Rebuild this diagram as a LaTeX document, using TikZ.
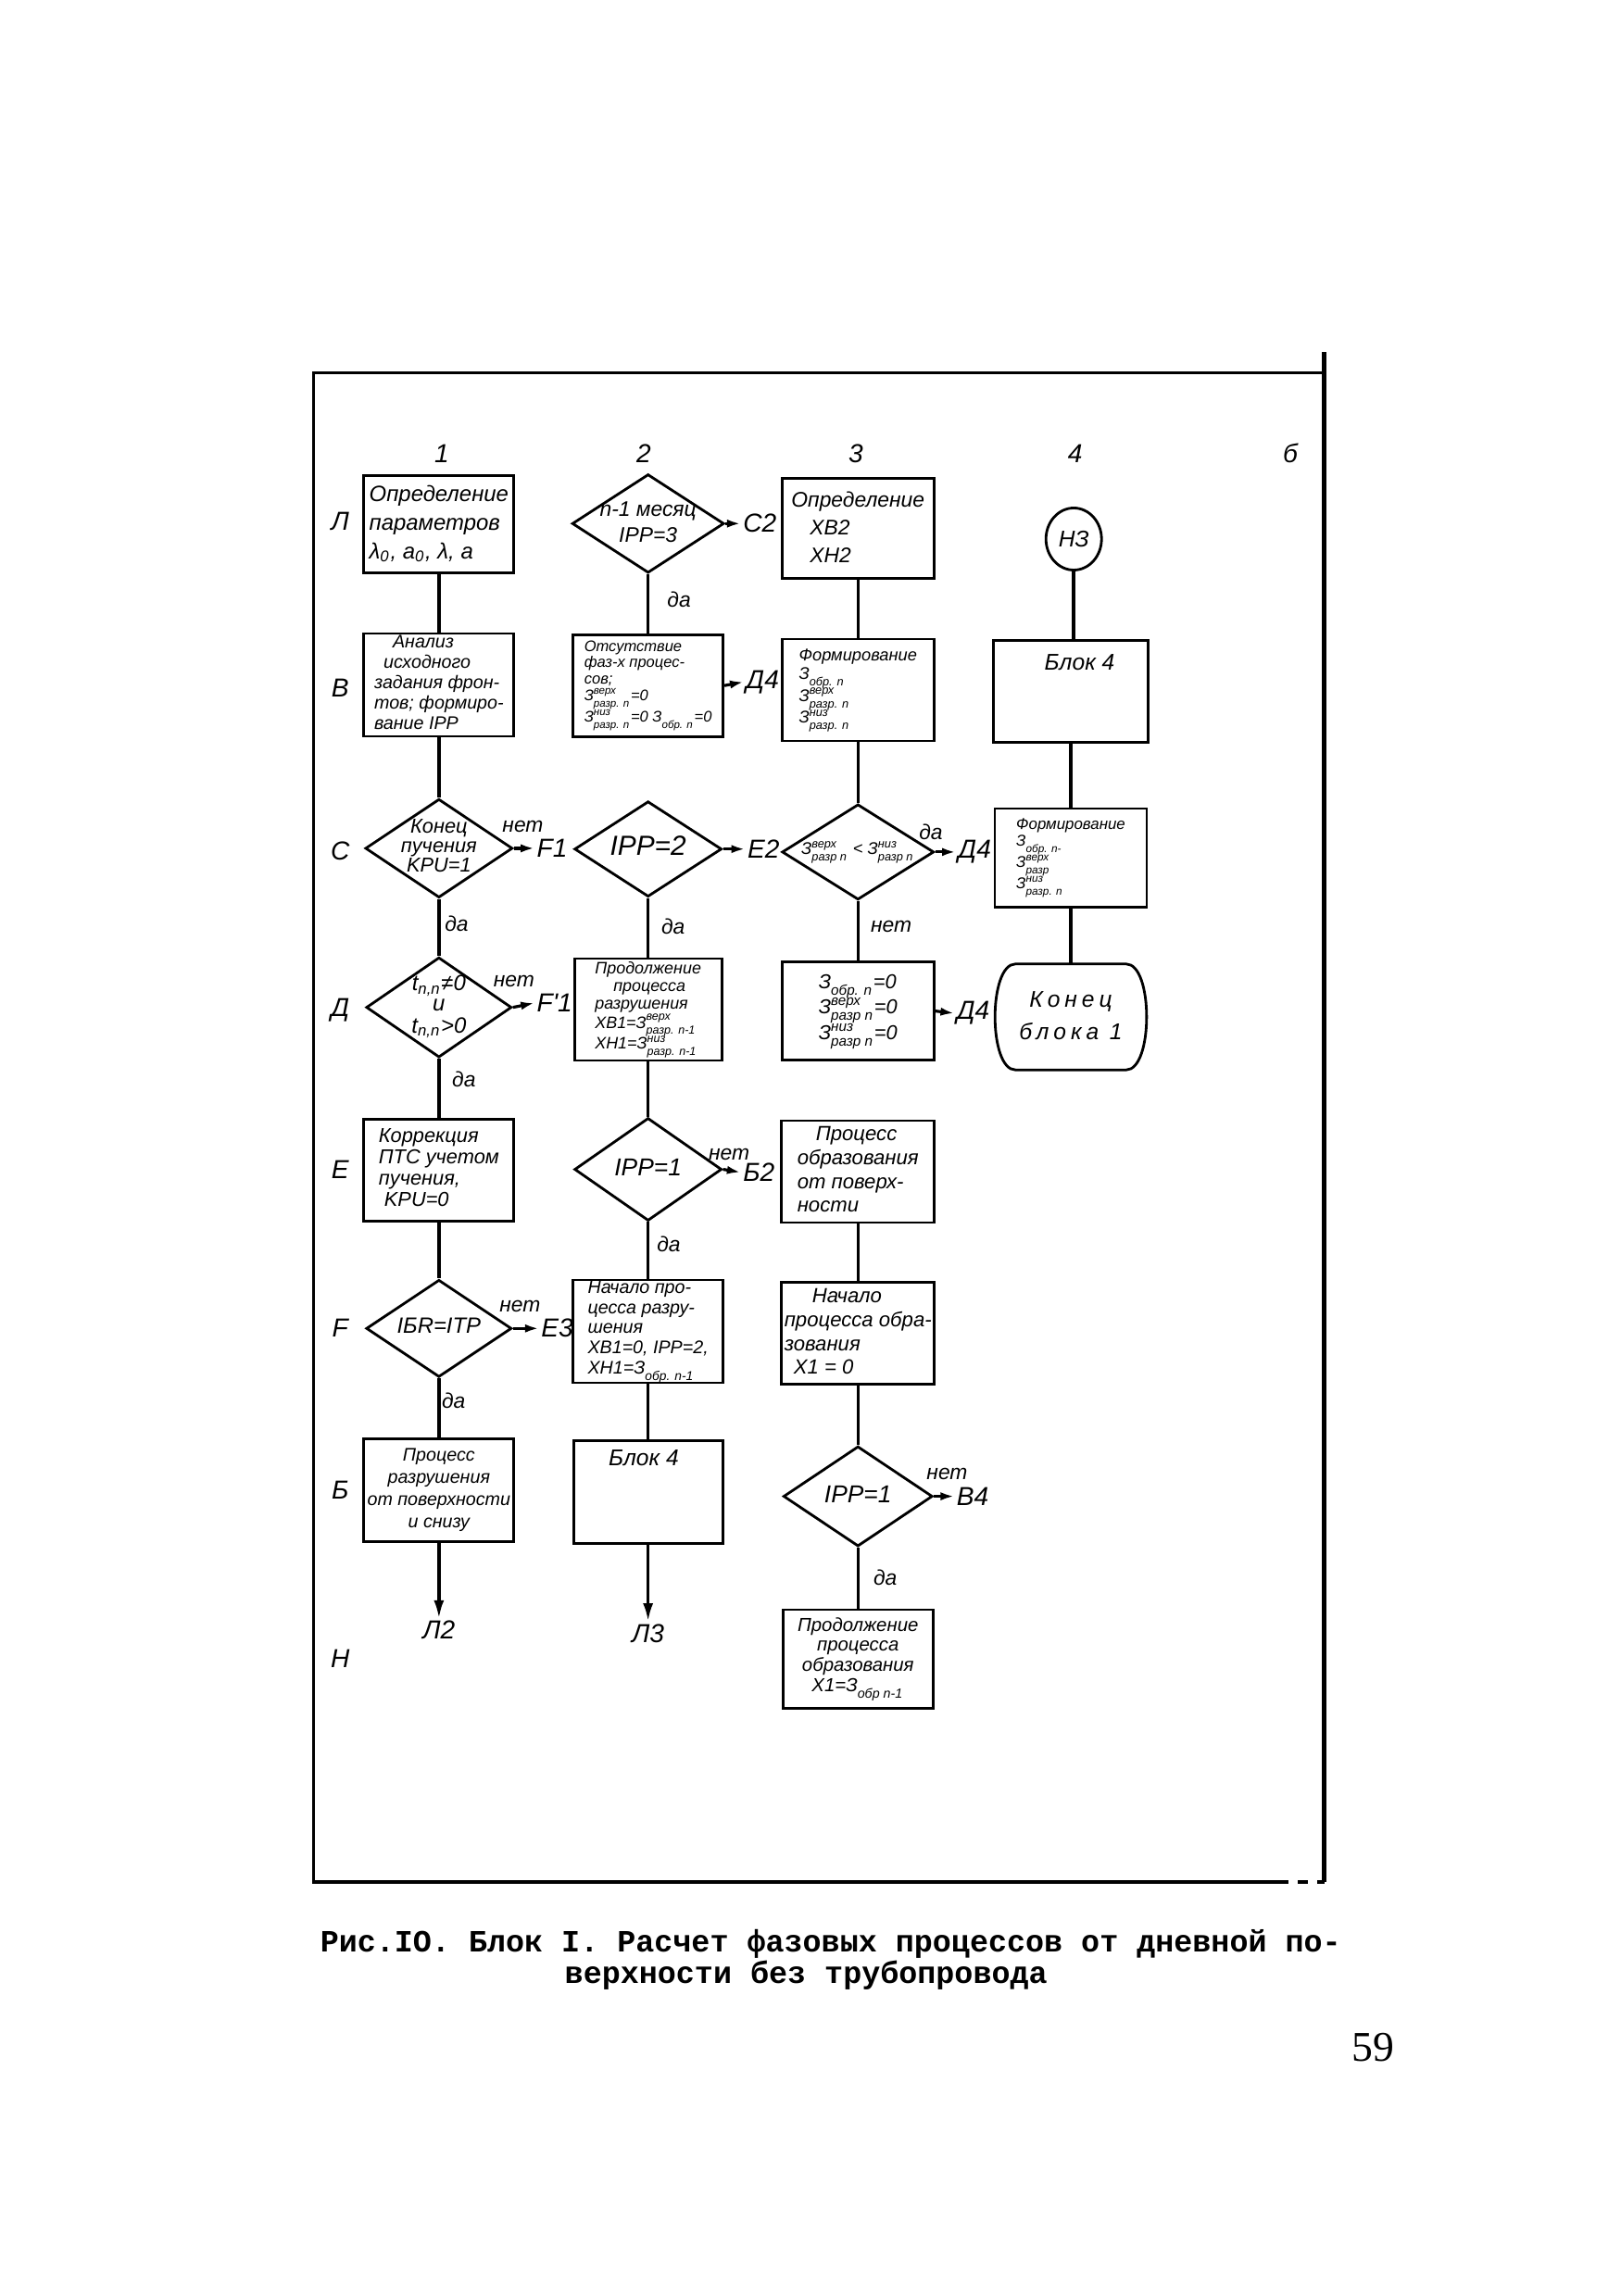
\documentclass[tikz,border=0pt]{standalone}
\usepackage{amsmath}
\usepackage{fontspec}
\setmainfont{Liberation Serif}
\newfontfamily\hand{Liberation Sans}
\newfontfamily\typer{Liberation Mono}
\usetikzlibrary{shapes.geometric,arrows.meta}
\newcommand{\hw}[2]{\hand\itshape\fontsize{#1}{#2}\selectfont}
\newcommand{\inbox}[2][c]{\makebox[0pt]{\raisebox{-0.25em}[0pt][0pt]{\begin{tabular}{@{}#1@{}}#2\end{tabular}}}}
\newcommand{\zsym}[2]{$\text{З}^{\text{#1}}_{\text{#2}}$}
\begin{document}
\begin{tikzpicture}[x=0.159mm,y=-0.159mm,
	box/.style={draw,line width=0.8pt,inner sep=0pt,minimum width=16.2mm,minimum height=11mm,font=\hw{6}{7}},
	cond/.style={draw,diamond,line width=0.8pt,inner sep=0pt,minimum width=16mm,minimum height=10.6mm,font=\hw{6}{7}},
	flow/.style={line width=1pt},
	outarrow/.style={line width=0.9pt,-{Latex[length=1.5mm,width=0.9mm]}},
	downarrow/.style={line width=1pt,-{Latex[length=2mm,width=1.1mm]}},
	word/.style={inner sep=0.5pt,font=\hw{6.5}{7}},
	ref/.style={inner sep=0.5pt,font=\hw{8}{9}},
	hdr/.style={inner sep=0pt,font=\hw{8}{9}},
	captext/.style={inner sep=0pt,anchor=west,font=\typer\bfseries\fontsize{9.5}{11}\selectfont}]
		\useasboundingbox (0,0) rectangle (1100,1559);

		\draw[line width=1pt] (899,253) -- (213,253) -- (213,1278) -- (868,1278);
		\draw[line width=1pt,dashed] (868,1278) -- (899,1278);
		\draw[line width=1.6pt] (899,239) -- (899,1278);

		\foreach \Pos/\Text [count=\i] in {300/1,437/2,581/3,730/4,876/б}{
			\node[hdr] (col\i) at (\Pos,308) {\Text};
		}
		\foreach \Pos/\Text [count=\i] in {354/Л,467/В,578/С,686/Д,794/Е,902/F,1012/Б,1126/Н}{
			\node[hdr] (row\i) at (231,\Pos) {\Text};
		}

		\node[box,minimum height=10.5mm,font=\hw{6.8}{8.8}] (a1) at (298,356) {\inbox[l]{Определение\\параметров\\ λ\textsubscript{0}, a\textsubscript{0}, λ, a}};
		\node[box,minimum height=11.1mm,font=\hw{5.6}{6.3}] (b1) at (298,465) {\inbox[l]{\hspace*{2mm}Анализ\\\hspace*{1mm}исходного\\задания фрон-\\тов; формиро-\\вание IPP}};
		\node[cond,minimum width=15.9mm,minimum height=10.65mm,font=\hw{6.2}{6}] (c1) at (298,576) {\inbox{Конец\\пучения\\KPU=1}};
		\node[cond,minimum width=15.7mm,minimum height=10.8mm,font=\hw{6.8}{6.3}] (d1) at (298,684) {\inbox{t\textsubscript{n,n}≠0\\и\\t\textsubscript{n,n}>0}};
		\node[box,minimum height=11mm,font=\hw{6.2}{6.6}] (e1) at (298,794.5) {\inbox[l]{Коррекция\\ ПТС учетом\\пучения,\\ \ KPU=0}};
		\node[cond,minimum width=15.7mm,minimum height=10.5mm,font=\hw{6.8}{8}] (f1) at (298,902) {\inbox{IБR=ITP}};
		\node[box,minimum height=11.1mm,font=\hw{5.6}{6.8}] (g1) at (298,1012) {\inbox{Процесс\\разрушения\\от поверхности\\и снизу}};
		\node[ref] (g1x) at (298,1107) {Л2};

		\node[cond,minimum width=16.4mm,minimum height=10.65mm,font=\hw{6.5}{8}] (a2) at (440,355.5) {\inbox{n-1 месяц\\IPP=3}};
		\node[box,minimum height=11mm,font=\hw{4.7}{5}] (b2) at (440,465.5) {\inbox[l]{Отсутствие\\фаз-х процес-\\сов;\\\zsym{верх}{разр. n}=0\\\zsym{низ}{разр. n}=0\ \zsym{}{обр. n}=0}};
		\node[cond,minimum width=15.9mm,minimum height=10.3mm,font=\hw{8.5}{9}] (c2) at (440,576.5) {\inbox{IPP=2}};
		\node[box,minimum width=15.9mm,minimum height=11mm,font=\hw{5.1}{5.4}] (d2) at (440,685.5) {\inbox[l]{Продолжение\\\hspace*{2mm}процесса\\разрушения\\XB1=\zsym{верх}{разр. n-1}\\XH1=\zsym{низ}{разр. n-1}}};
		\node[cond,minimum width=15.9mm,minimum height=11.1mm,font=\hw{7.5}{9}] (e2) at (440,794) {\inbox{IPP=1}};
		\node[box,minimum height=11.1mm,font=\hw{5.6}{6.2}] (f2) at (440,904) {\inbox[l]{Начало про-\\цесса разру-\\шения\\XB1=0, IPP=2,\\XH1=\zsym{}{обр. n-1}}};
		\node[box,minimum width=16.1mm,minimum height=11.1mm] (g2) at (440,1013) {};
		\node[inner sep=0pt,font=\hw{7}{8}] (g2t) at (437,990) {Блок 4};
		\node[ref] (g2x) at (440,1109) {Л3};

		\node[box,minimum width=16.4mm,minimum height=10.8mm,font=\hw{6.5}{8.5}] (a3) at (582.5,359) {\inbox[l]{Определение\\\hspace*{2mm}XB2\\\hspace*{2mm}XH2}};
		\node[box,minimum width=16.4mm,minimum height=11mm,font=\hw{5.2}{5.6}] (b3) at (582.5,468.5) {\inbox[l]{Формирование\\\zsym{}{обр. n}\\[0.3pt]\zsym{верх}{разр. n}\\[0.3pt]\zsym{низ}{разр. n}}};
		\node[cond,minimum width=16.4mm,minimum height=10.3mm,font=\hw{5.2}{6}] (c3) at (582.5,578.5) {\inbox{\zsym{верх}{разр n}\ <\ \zsym{низ}{разр n}}};
		\node[box,minimum width=16.4mm,minimum height=10.65mm,font=\hw{6.2}{6.6}] (d3) at (582.5,686.5) {\inbox[l]{\zsym{}{обр. n}=0\\[1pt]\zsym{верх}{разр n}=0\\[1pt]\zsym{низ}{разр n}=0}};
		\node[box,minimum width=16.5mm,minimum height=11mm,font=\hw{6.3}{7.3}] (e3) at (582.5,795.5) {\inbox[l]{\hspace*{2mm}Процесс\\образования\\от поверх-\\ности}};
		\node[box,minimum width=16.5mm,minimum height=11mm,font=\hw{6.3}{7.3}] (f3) at (582.5,905.5) {\inbox[l]{\hspace*{3mm}Начало\\процесса обра-\\зования\\\hspace*{1mm}X1 = 0}};
		\node[cond,minimum width=16.1mm,minimum height=10.8mm,font=\hw{7.5}{9}] (g3) at (582.5,1016) {\inbox{IPP=1}};
		\node[box,minimum height=10.65mm,font=\hw{5.8}{6.2}] (h3) at (582.5,1126.5) {\inbox{Продолжение\\процесса\\образования\\X1=\zsym{}{обр n-1}}};

		\node[draw,ellipse,line width=0.8pt,inner sep=0pt,minimum width=6mm,minimum height=6.7mm,font=\hw{7}{8}] (n3) at (729,366) {НЗ};
		\node[box,minimum width=16.7mm,minimum height=11mm] (b4) at (727,469.5) {};
		\node[inner sep=0pt,font=\hw{7}{8}] (b4t) at (733,450) {Блок 4};
		\node[box,minimum width=16.4mm,minimum height=10.65mm,font=\hw{4.8}{5.2}] (c4) at (727,582.5) {\inbox[l]{Формирование\\\zsym{}{обр. n-}\\[0.6pt]\zsym{верх}{разр}\\[0.6pt]\zsym{низ}{разр. n}}};
		\node[inner sep=0pt,minimum width=16.2mm,minimum height=11.3mm,font=\hw{7}{10}\addfontfeature{LetterSpace=20}] (d4) at (727,690.5) {\inbox{Конец\\блока 1}};
		\draw[line width=0.8pt] ([xshift=2.2mm]d4.north west) -- ([xshift=-2.2mm]d4.north east)
			.. controls ([xshift=0.75mm]d4.north east) and ([xshift=0.75mm]d4.south east) .. ([xshift=-2.2mm]d4.south east)
			-- ([xshift=2.2mm]d4.south west)
			.. controls ([xshift=-0.75mm]d4.south west) and ([xshift=-0.75mm]d4.north west) .. cycle;

		\draw[flow] (a1) -- (b1);
		\draw[flow] (b1) -- (c1);
		\draw[flow] (c1) -- (d1);
		\draw[flow] (d1) -- (e1);
		\draw[flow] (e1) -- (f1);
		\draw[flow] (f1) -- (g1);
		\draw[downarrow] (g1.south) -- (g1x.north);

		\draw[flow] (a2) -- (b2);
		\draw[flow] (c2) -- (d2);
		\draw[flow] (d2) -- (e2);
		\draw[flow] (e2) -- (f2);
		\draw[flow] (f2) -- (g2);
		\draw[downarrow] (g2.south) -- (g2x.north);

		\draw[flow] (a3) -- (b3);
		\draw[flow] (b3) -- (c3);
		\draw[flow] (c3) -- (d3);
		\draw[flow] (e3) -- (f3);
		\draw[flow] (f3) -- (g3);
		\draw[flow] (g3) -- (h3);

		\draw[flow] (n3) -- (n3 |- b4.north);
		\draw[flow] (b4) -- (c4);
		\draw[flow] (c4) -- (d4);

		\node[ref,anchor=west] (c1x) at (363,576) {F1};
		\node[ref,anchor=west] (d1x) at (363,681) {F'1};
		\node[ref,anchor=west] (f1x) at (366,902) {E3};
		\node[ref,anchor=west] (a2x) at (503,355.5) {C2};
		\node[ref,anchor=west] (b2x) at (505,463) {Д4};
		\node[ref,anchor=west] (c2x) at (506,576.5) {E2};
		\node[ref,anchor=west] (e2x) at (503,796) {Б2};
		\node[ref,anchor=west] (c3x) at (649,578.5) {Д4};
		\node[ref,anchor=west] (d3x) at (648,688) {Д4};
		\node[ref,anchor=west] (g3x) at (648,1016) {B4};
		\foreach \From in {c1,d1,f1,a2,b2,c2,e2,c3,d3,g3}{
			\draw[outarrow] (\From.east) -- (\From x.west);
		}

		\node[word] (c1no) at (355,561) {нет};
		\node[word] (c1yes) at (310,627) {да};
		\node[word] (d1no) at (349,666) {нет};
		\node[word] (d1yes) at (315,733) {да};
		\node[word] (f1no) at (353,887) {нет};
		\node[word] (f1yes) at (308,951) {да};
		\node[word] (a2yes) at (461,407) {да};
		\node[word] (c2yes) at (457,629) {да};
		\node[word] (e2no) at (495,784) {нет};
		\node[word] (e2yes) at (454,845) {да};
		\node[word] (c3yes) at (632,565) {да};
		\node[word] (c3no) at (605,629) {нет};
		\node[word] (g3no) at (643,1001) {нет};
		\node[word] (g3yes) at (601,1071) {да};

		\node[captext] (cap1) at (217,1320) {Рис.IO. Блок I. Расчет фазовых процессов от дневной по-};
		\node[captext] (cap2) at (383,1341) {верхности без трубопровода};
		\node[inner sep=0pt,font=\fontsize{13}{14}\selectfont] (page) at (932,1390) {59};
\end{tikzpicture}
\end{document}
